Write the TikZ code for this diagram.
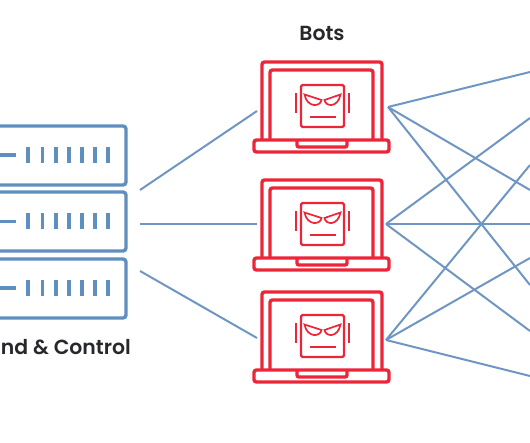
\documentclass[tikz,border=0pt]{standalone}
\usepackage{fontspec}
\setmainfont[BoldFont={Poppins SemiBold}]{Poppins}
\definecolor{botred}{HTML}{EC2538}
\definecolor{srvblue}{HTML}{5F8FBF}
\definecolor{wireblue}{HTML}{6F96C2}
\definecolor{labelblack}{HTML}{26282B}
\tikzset{
  wire/.style={draw=wireblue, line width=2pt},
  redline/.style={draw=botred, line width=3.4pt, rounded corners=2.5pt},
  redthin/.style={draw=botred, line width=2.2pt, rounded corners=1.5pt},
  redeye/.style={draw=botred, line width=1.7pt},
  srvbox/.style={draw=srvblue, line width=3.4pt, rounded corners=3pt},
  srvbar/.style={draw=srvblue, line width=3.6pt},
  heading/.style={font=\fontsize{20.4}{24}\selectfont\bfseries, text=labelblack, inner sep=0pt}
}
\begin{document}
\begin{tikzpicture}[x=1pt, y=-1pt]
\useasboundingbox (0,0) rectangle (530,443);
\clip (0,0) rectangle (530,443);

% servers
\foreach \i/\top/\bot/\mid in {1/126/185/155, 2/192/251/221.5, 3/259/318/288} {
  \draw[srvbox] (-20,\top) -| (126,\bot) -- (-20,\bot);
  \draw[srvbar] (-10,\mid) -- (16,\mid);
  \foreach \x in {28,42.5,56,69,82,95,108}
    \draw[srvbar] (\x,\mid-8) -- (\x,\mid+8);
}

% laptops
\foreach \i/\dy in {1/0, 2/118, 3/230} {
  \begin{scope}[yshift=-\dy pt]
    \draw[redline] (262,140) |- (382,62) -- (382,140);
    \draw[redline] (270,140) |- (373,70) -- (373,140);
    \draw[redline, fill=white] (254,140) rectangle (389,152);
    \draw[redline, rounded corners=2pt] (297,140) -- (297,147) -- (347,147) -- (347,140);
    \draw[redthin] (301,85) rectangle (344,127);
    \draw[redthin] (296,93) -- (296,113);
    \draw[redthin] (349,93) -- (349,113);
    \draw[redthin] (310,117) -- (336,117);
    \draw[redeye] (304.5,94.5) -- (321.5,100) .. controls (320.5,107) and (307,108) .. cycle;
    \draw[redeye] (340.5,94.5) -- (324.5,100) .. controls (325.5,107) and (338,108) .. cycle;
  \end{scope}
}

% ends of the wires
\coordinate (cc1) at (140,190);
\coordinate (cc2) at (140,224);
\coordinate (cc3) at (140,271);
\coordinate (botin1) at (257,111);
\coordinate (botin2) at (257,224);
\coordinate (botin3) at (257,338);
\coordinate (botout1) at (388,107);
\coordinate (botout2) at (386,224);
\coordinate (botout3) at (386,340);
\coordinate (t1) at (530,72);
\coordinate (t2) at (530,118);
\coordinate (t3) at (530,165);
\coordinate (t4) at (530,190);
\coordinate (t5) at (530,224);
\coordinate (t6) at (530,258);
\coordinate (t7) at (530,285);
\coordinate (t8) at (530,331);
\coordinate (t9) at (530,376);

\foreach \i in {1,2,3}
  \draw[wire] (cc\i) -- (botin\i);
\foreach \t in {1,4,7}
  \draw[wire] (botout1) -- (t\t);
\foreach \t in {2,5,8}
  \draw[wire] (botout2) -- (t\t);
\foreach \t in {3,6,9}
  \draw[wire] (botout3) -- (t\t);

\node[heading, anchor=base] (bots) at (322,41) {Bots};
\node[heading, anchor=base east] (control) at (131,355) {nd \& Control};
\end{tikzpicture}
\end{document}
